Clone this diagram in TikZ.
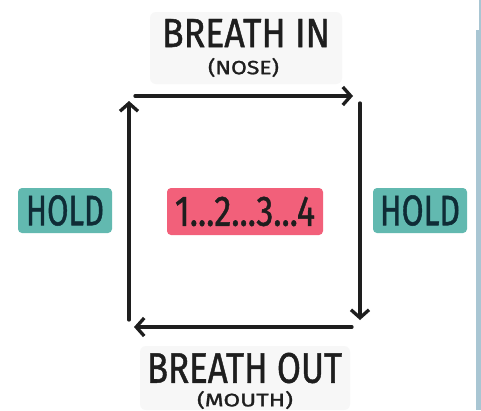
\documentclass[tikz,border=0pt]{standalone}
\usepackage{fontspec}
\usepackage{graphicx}
\setmainfont{Fira Sans}[FakeBold=1.2]
\usetikzlibrary{arrows.meta}
\definecolor{ink}{HTML}{1E1E1E}
\definecolor{holdink}{HTML}{0F2C36}
\definecolor{teal}{HTML}{62B9B0}
\definecolor{pinkbox}{HTML}{F2607A}
\definecolor{strip}{HTML}{A9C6D3}
\definecolor{halo}{HTML}{F7F7F7}
\newcommand{\fitc}[3]{\resizebox{#1}{#2}{#3}}
\newcommand{\fitp}[3]{\resizebox*{#1}{#2}{#3}}
\tikzset{
  lbl/.style={inner sep=0pt, text=ink},
  holdbox/.style={fill=teal, rounded corners=4pt, minimum width=94pt, minimum height=45pt, inner sep=0pt, text=holdink},
  countbox/.style={fill=pinkbox, rounded corners=4pt, minimum width=156pt, minimum height=47pt, inner sep=0pt, text=ink},
  flow/.style={draw=ink, line width=3.3pt, line cap=round, line join=round, -{Straight Barb[length=8pt,width=18pt]}}
}
\begin{document}
\begin{tikzpicture}[x=1pt,y=-1pt]
\useasboundingbox (0,0) rectangle (481,410);
\fill[white] (0,0) rectangle (481,410);
% faint highlights behind titles
\fill[halo, rounded corners=6pt] (150,12) rectangle (342,84);
\fill[halo, rounded corners=6pt] (140,346) rectangle (350,410);
% right strip
\fill[strip] (476,30) rectangle (481,410);
\fill[strip] (479,0) rectangle (481,30);
% labels
\node[lbl] (in) at (246,33) {\fitc{168pt}{28pt}{BREATH IN}};
\node[lbl] (nose) at (243.5,67.5) {\fitp{71pt}{19pt}{(NOSE)}};
\node[lbl] (out) at (244.5,368) {\fitc{195pt}{30pt}{BREATH OUT}};
\node[lbl] (mouth) at (245,400) {\fitp{96pt}{18pt}{(MOUTH)}};
% boxes
\node[holdbox] (holdL) at (65,210.5) {\fitc{78pt}{30pt}{HOLD}};
\node[countbox] (count) at (245,211.5) {\fitc{140pt}{29pt}{1...2...3...4}};
\node[holdbox] (holdR) at (420,210.5) {\fitc{80pt}{30pt}{HOLD}};
% corners of the square
\coordinate (a1) at (135,96);
\coordinate (a2) at (353,96);
\coordinate (b1) at (360,103);
\coordinate (b2) at (360,320);
\coordinate (c1) at (352,327);
\coordinate (c2) at (134,327);
\coordinate (d1) at (129,320);
\coordinate (d2) at (129,101);
\draw[flow] (a1) -- (a2);
\draw[flow] (b1) -- (b2);
\draw[flow] (c1) -- (c2);
\draw[flow] (d1) -- (d2);
\end{tikzpicture}
\end{document}
